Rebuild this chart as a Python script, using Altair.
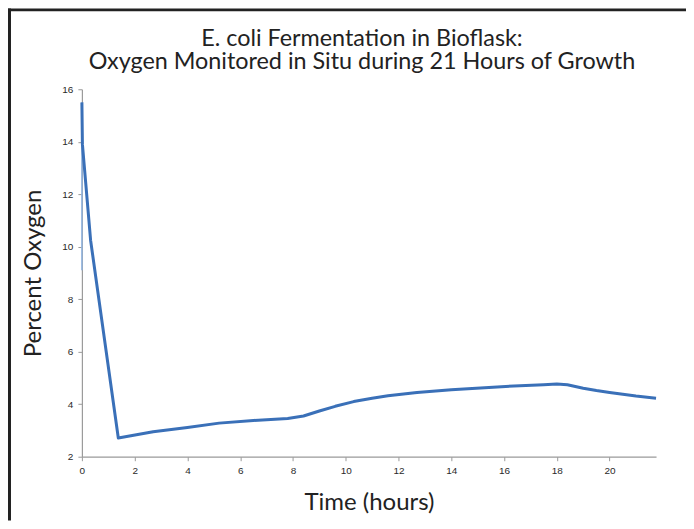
import altair as alt
import pandas as pd

# Data
hours = [0, 0.02, 0.33, 1.38, 2.7, 4.0, 5.2, 6.5, 7.8, 8.4, 9.0, 9.6, 10.3, 11.0, 11.6, 12.7,
         14.0, 15.9, 17.5, 18.0, 18.4, 19.0, 19.5, 20.0, 20.5, 21.0, 21.76]
oxygen = [15.5, 13.9, 10.25, 2.71, 2.95, 3.11, 3.28, 3.38, 3.46, 3.55, 3.74, 3.92, 4.1, 4.23, 4.32, 4.45,
          4.55, 4.67, 4.74, 4.77, 4.74, 4.61, 4.52, 4.45, 4.38, 4.31, 4.23]
spike_hours = [0, 0]
spike_oxygen = [9.1, 15.5]

title_lines = ["E. coli Fermentation in Bioflask:",
               "Oxygen Monitored in Situ during 21 Hours of Growth"]
x_title = "Time (hours)"
y_title = "Percent Oxygen"
x_ticks = list(range(0, 22))
y_ticks = list(range(2, 17))

df = pd.DataFrame({"hours": hours, "oxygen": oxygen})
spike_df = pd.DataFrame({"hours": spike_hours, "oxygen": spike_oxygen})

FONT = "Lato"
axis_common = dict(
    domainColor="#9a9a9a", tickColor="#9a9a9a", tickSize=4, domainWidth=1.2,
    labelColor="#2a2a2a", labelFont="Liberation Sans", labelFontSize=10,
    titleFont=FONT, titleFontSize=24, titleFontWeight="normal", titleColor="#222222",
    grid=False,
)

x_enc = alt.X(
    "hours:Q",
    scale=alt.Scale(domain=[0, 21.76], nice=False, zero=False),
    axis=alt.Axis(values=x_ticks, labelExpr="datum.value % 2 == 0 ? datum.label : ''",
                  labelPadding=5, titlePadding=15, labelFlush=False, **axis_common),
    title=x_title,
)
y_enc = alt.Y(
    "oxygen:Q",
    scale=alt.Scale(domain=[2, 16], nice=False, zero=False),
    axis=alt.Axis(values=y_ticks, labelExpr="datum.value % 2 == 0 ? datum.label : ''",
                  labelPadding=5, titlePadding=16, labelFlush=False, **axis_common),
    title=y_title,
)

line = alt.Chart(df).mark_line(color="#3a70b8", strokeWidth=3, strokeJoin="round").encode(
    x=x_enc, y=y_enc
)
spike = alt.Chart(spike_df).mark_line(color="#92b6e2", strokeWidth=1.5).encode(
    x=alt.X("hours:Q"), y=alt.Y("oxygen:Q")
)

frame_left = alt.Chart(alt.Data(values=[{}])).mark_rule(color="#222222", strokeWidth=3).encode(
    x=alt.value(-72.5), y=alt.value(-81), y2=alt.value(432)
)
frame_top = alt.Chart(alt.Data(values=[{}])).mark_rule(color="#222222", strokeWidth=3).encode(
    x=alt.value(-74), x2=alt.value(605), y=alt.value(-79.5)
)

chart = alt.layer(frame_left, frame_top, spike, line).properties(
    width=575,
    height=368,
    padding={"left": 74, "top": 81, "right": 30, "bottom": 64},
    autosize=alt.AutoSizeParams(type="none"),
    background="white",
    title=alt.TitleParams(
        text=title_lines, font=FONT, fontSize=23.4, fontWeight="normal", color="#222222",
        lineHeight=23.5, anchor="middle", dx=-7, offset=-68, frame="group",
    ),
).configure_view(stroke=None)

chart.save("out.html", embed_options={"renderer": "svg", "actions": False})
